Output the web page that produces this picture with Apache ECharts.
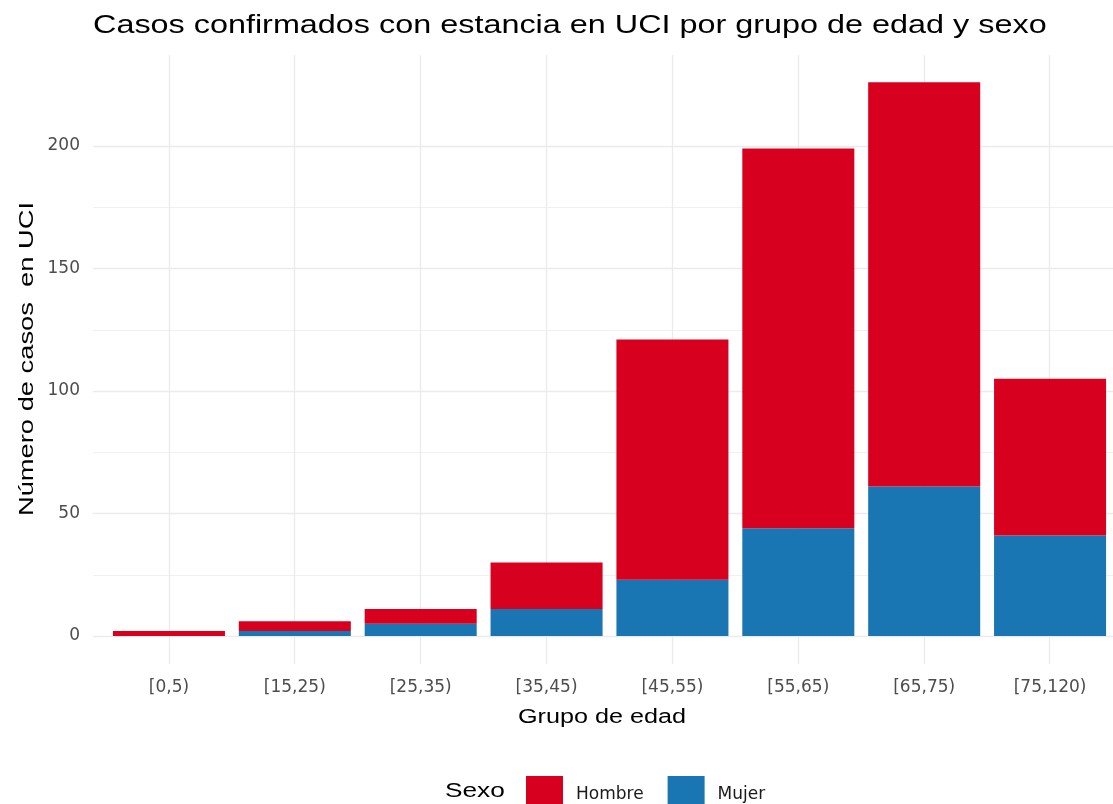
<!DOCTYPE html>
<html>
<head>
<meta charset="utf-8">
<script src="https://cdn.jsdelivr.net/npm/echarts@6/dist/echarts.min.js"></script>
<style>
html,body{margin:0;padding:0;background:#fff;}
#chart{width:1113px;height:804px;}
</style>
</head>
<body>
<div id="chart"></div>
<script>
const categories = ['[0,5)','[15,25)','[25,35)','[35,45)','[45,55)','[55,65)','[65,75)','[75,120)'];
const mujer  = [0, 2, 5, 11, 23, 44, 61, 41];
const hombre = [2, 4, 6, 19, 98, 155, 165, 64];
const yTicks = [0, 50, 100, 150, 200];

const FONT = 'Liberation Sans, Arial, sans-serif';
const WIDE = 'DejaVu Sans, Verdana, sans-serif';
const RED = '#d8001f';
const BLUE = '#1a76b2';
const GRID = '#ebebeb';

const chart = echarts.init(document.getElementById('chart'), null, {renderer: 'canvas'});
chart.setOption({
  animation: false,
  backgroundColor: '#ffffff',
  legend: {
    data: ['Hombre', 'Mujer'],
    left: 521, top: 771,
    itemWidth: 37, itemHeight: 37, itemGap: 24,
    icon: 'rect',
    selectedMode: false,
    textStyle: {fontFamily: WIDE, fontSize: 17, color: '#1a1a1a', padding: [0, 0, 0, 8]}
  },
  graphic: [
    {type: 'text', x: 93, y: 26, scaleX: 1.245, style: {text: 'Casos confirmados con estancia en UCI por grupo de edad y sexo', font: '26px ' + FONT, fill: '#000', textAlign: 'left', textVerticalAlign: 'middle'}},
    {type: 'text', x: 445, y: 791, scaleX: 1.25, style: {text: 'Sexo', font: '21px ' + FONT, fill: '#000', textAlign: 'left', textVerticalAlign: 'middle'}},
    {type: 'text', x: 602, y: 717, scaleX: 1.26, style: {text: 'Grupo de edad', font: '20px ' + FONT, fill: '#000', textAlign: 'center', textVerticalAlign: 'middle'}},
    {type: 'text', x: 27, y: 359, rotation: Math.PI / 2, scaleX: 1.3, style: {text: 'Número de casos  en UCI', font: '21px ' + FONT, fill: '#000', textAlign: 'center', textVerticalAlign: 'middle'}}
  ],
  grid: [
    {left: 106, right: 0, top: 146, bottom: 168, containLabel: false},
    {left: 168.8, right: 63.3, top: 55, bottom: 140, containLabel: false},
    {left: 93, right: 0, top: 146, bottom: 168, containLabel: false}
  ],
  xAxis: [
    {
      type: 'category', gridIndex: 0, data: categories, boundaryGap: true,
      axisLine: {show: false}, axisTick: {show: false}, splitLine: {show: false},
      axisLabel: {margin: 43, fontFamily: WIDE, fontSize: 17, color: '#4d4d4d'}
    },
    {
      type: 'category', gridIndex: 1, data: categories, boundaryGap: false,
      axisLine: {show: false}, axisTick: {show: false}, axisLabel: {show: false},
      splitLine: {show: true, lineStyle: {color: GRID, width: 1.3}}
    },
    {
      type: 'value', gridIndex: 2, min: 0, max: 1, show: false
    }
  ],
  yAxis: [
    {
      type: 'value', gridIndex: 0, min: 0, max: 200, interval: 50,
      axisLine: {show: false}, axisTick: {show: false}, axisLabel: {show: false}, splitLine: {show: false}
    },
    {
      type: 'value', gridIndex: 1, min: 0, max: 1, show: false, splitLine: {show: false}
    },
    {
      type: 'value', gridIndex: 2, min: yTicks[0], max: yTicks[yTicks.length - 1], interval: 50,
      axisLine: {show: false}, axisTick: {show: false},
      axisLabel: {margin: 13, fontFamily: WIDE, fontSize: 17, color: '#4d4d4d'},
      splitLine: {show: true, lineStyle: {color: GRID, width: 1.3}},
      minorTick: {show: false, splitNumber: 2},
      minorSplitLine: {show: true, lineStyle: {color: '#f0f0f0', width: 1}}
    }
  ],
  series: [
    {
      name: 'Mujer', type: 'bar', stack: 'total', xAxisIndex: 0, yAxisIndex: 0,
      data: mujer, barCategoryGap: '11%', clip: false,
      itemStyle: {color: BLUE}
    },
    {
      name: 'Hombre', type: 'bar', stack: 'total', xAxisIndex: 0, yAxisIndex: 0,
      data: hombre, barCategoryGap: '11%', clip: false,
      itemStyle: {color: RED}
    }
  ]
});
</script>
</body>
</html>
